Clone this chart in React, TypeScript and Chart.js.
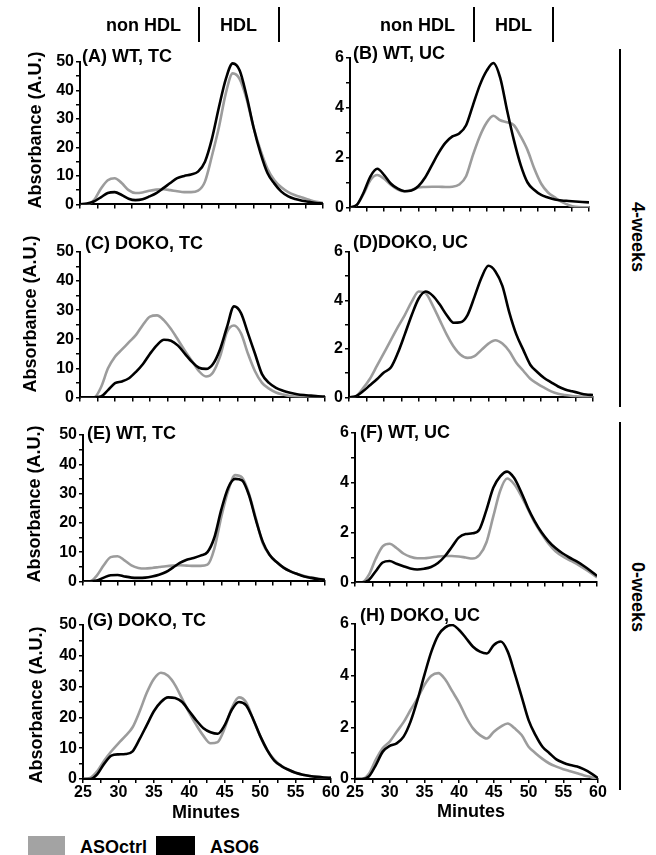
import React, { useEffect, useRef } from "react";
import { Chart, registerables } from "chart.js";
Chart.register(...registerables);

// ---- data ----
const MINUTES = [25, 26, 27, 28, 29, 30, 31, 32, 33, 34, 35, 36, 37, 38, 39, 40, 41, 42, 43, 44, 45, 46, 47, 48, 49, 50, 51, 52, 53, 54, 55, 56, 57, 58, 59, 60];

const X_TICKS = [25, 30, 35, 40, 45, 50, 55, 60];
const TC_TICKS = [0, 10, 20, 30, 40, 50];
const UC_TICKS = [0, 2, 4, 6];

const A_ASOCTRL = [0, 0, 1.5, 5.5, 8.5, 9.2, 7.5, 5, 4, 4.2, 4.8, 5.2, 5.3, 5, 4.6, 4.3, 4.3, 4.8, 8, 17, 27, 39, 46, 44, 37, 27, 19, 12.5, 8.5, 6, 4.3, 3.2, 2.4, 1.6, 0.9, 0.5];
const A_ASO6 = [0, 0.3, 1, 2.5, 4, 4.3, 3.3, 2, 1.5, 1.8, 2.8, 4, 5.7, 7.5, 9.2, 10, 10.5, 11.5, 15, 23, 34, 44, 49.5, 47, 38, 27, 18, 11, 7.3, 4.5, 2.8, 1.9, 1.3, 0.9, 0.5, 0.3];

const B_ASOCTRL = [0, 0.1, 0.55, 1.1, 1.3, 1.15, 0.9, 0.72, 0.65, 0.7, 0.8, 0.82, 0.83, 0.83, 0.82, 0.83, 0.92, 1.25, 2.1, 2.85, 3.4, 3.68, 3.5, 3.42, 3.3, 2.85, 2.3, 1.55, 0.95, 0.6, 0.4, 0.22, 0.1, 0.02, 0, 0];
const B_ASO6 = [0, 0.1, 0.6, 1.25, 1.55, 1.3, 0.95, 0.75, 0.65, 0.68, 0.85, 1.2, 1.7, 2.2, 2.6, 2.85, 2.97, 3.3, 4.1, 4.9, 5.48, 5.8, 5.2, 3.9, 2.7, 1.7, 1.0, 0.7, 0.5, 0.4, 0.32, 0.28, 0.26, 0.24, 0.22, 0.2];

const C_ASOCTRL = [0, 0, 0, 3.5, 10, 14, 16.5, 19, 21.5, 25, 27.8, 28.2, 26.5, 23.5, 19.8, 16, 12.5, 9, 7.2, 8.6, 14, 22.5, 24.7, 22, 15, 9, 5, 3, 1.7, 1.0, 0.5, 0.3, 0.2, 0.1, 0.05, 0];
const C_ASO6 = [0, 0, 0, 0.3, 2.5, 4.9, 5.5, 6.6, 8.8, 11.5, 15, 18, 19.8, 19.5, 17.8, 15, 12.2, 10.2, 9.8, 11.5, 16.5, 24.2, 31.3, 29, 22, 15, 8, 5, 3.3, 2.3, 1.6, 1.1, 0.8, 0.6, 0.4, 0.3];

const D_ASOCTRL = [0, 0.05, 0.37, 0.77, 1.3, 1.83, 2.36, 2.9, 3.4, 3.95, 4.37, 4.3, 3.8, 3.2, 2.6, 2.1, 1.76, 1.63, 1.7, 1.96, 2.22, 2.36, 2.22, 1.9, 1.43, 1.1, 0.77, 0.57, 0.4, 0.25, 0.15, 0.1, 0.06, 0.04, 0.02, 0];
const D_ASO6 = [0, 0.05, 0.25, 0.5, 0.75, 1.03, 1.23, 1.83, 2.6, 3.4, 4.08, 4.37, 4.2, 3.84, 3.4, 3.08, 3.1, 3.4, 4.15, 4.94, 5.43, 5.2, 4.6, 3.5, 2.6, 1.96, 1.35, 1.05, 0.8, 0.62, 0.45, 0.33, 0.25, 0.18, 0.12, 0.1];

const E_ASOCTRL = [0, 0, 2, 5.5, 8.3, 8.6, 7.2, 5.5, 4.6, 4.4, 4.6, 4.9, 5.2, 5.4, 5.5, 5.4, 5.3, 5.3, 5.7, 11.2, 22, 31, 36.3, 35.5, 30, 21.5, 13, 9, 6.6, 4.7, 3.4, 2.5, 1.8, 1.3, 0.9, 0.6];
const E_ASO6 = [0, 0, 0.3, 1.3, 2.1, 2.2, 1.7, 1.3, 1.2, 1.3, 1.7, 2.3, 3.2, 4.7, 6.3, 7.4, 8.0, 8.8, 10, 15, 24.5, 32, 35, 34.5, 29.5, 21, 13.5, 9, 6.6, 4.7, 3.4, 2.5, 1.7, 1.2, 0.8, 0.5];

const F_ASOCTRL = [0, 0, 0.3, 0.95, 1.45, 1.55, 1.38, 1.16, 1.03, 0.97, 0.97, 1.0, 1.04, 1.06, 1.06, 1.04, 1.0, 0.96, 1.1, 1.6, 2.65, 3.68, 4.17, 3.95, 3.5, 2.95, 2.4, 1.95, 1.55, 1.25, 1.05, 0.9, 0.75, 0.58, 0.4, 0.2];
const F_ASO6 = [0, 0, 0.1, 0.45, 0.8, 0.86, 0.75, 0.65, 0.56, 0.52, 0.55, 0.62, 0.78, 1.05, 1.42, 1.8, 1.94, 1.97, 2.13, 2.9, 3.8, 4.26, 4.45, 4.2, 3.65, 3.0, 2.45, 2.0, 1.65, 1.38, 1.17, 1.0, 0.85, 0.68, 0.48, 0.26];

const G_ASOCTRL = [0, 0.3, 2.5, 6, 9, 11.6, 14, 16.8, 22, 28, 32.5, 34.5, 33.5, 30.5, 26, 21.5, 17.5, 14, 11.6, 12, 16.5, 23, 26.5, 25, 19.5, 14, 9.4, 6.3, 4.3, 3, 2, 1.4, 1, 0.7, 0.5, 0.4];
const G_ASO6 = [0, 0, 1.5, 5, 7.6, 8, 8.1, 9, 13, 17.5, 22, 25, 26.5, 26.3, 25, 22, 19, 16.5, 15.2, 14.7, 17.5, 22.5, 25, 24, 19.5, 14, 9.4, 6, 4.2, 3, 2, 1.4, 1, 0.7, 0.5, 0.4];

const H_ASOCTRL = [0, 0, 0.2, 0.75, 1.2, 1.45, 1.83, 2.2, 2.67, 3.12, 3.64, 4.0, 4.1, 3.85, 3.4, 2.95, 2.4, 1.96, 1.7, 1.57, 1.83, 2.03, 2.15, 1.96, 1.7, 1.25, 1.0, 0.78, 0.6, 0.48, 0.38, 0.3, 0.22, 0.14, 0.07, 0];
const H_ASO6 = [0, 0, 0.1, 0.54, 1.06, 1.28, 1.38, 1.64, 2.22, 3.06, 4.03, 4.93, 5.57, 5.87, 5.96, 5.77, 5.45, 5.12, 4.93, 4.86, 5.19, 5.32, 4.93, 4.09, 3.19, 2.28, 1.7, 1.25, 1.0, 0.76, 0.63, 0.54, 0.48, 0.37, 0.22, 0.03];

// ---- styling / layout ----
const FONT = '"Liberation Sans", Arial, Helvetica, sans-serif';
const GREY = "#9c9c9c";
const BLACK = "#000000";

type PanelDef = {
  title: string;
  ctrl: number[];
  aso6: number[];
  yMax: number;
  yStep: number;
  yLabels: number[];
  showX: boolean;
  box: [number, number, number, number]; // plot left, right, top, bottom (px)
  titlePos: [number, number];
};

const PANELS: PanelDef[] = [
  { title: "(A) WT, TC", ctrl: A_ASOCTRL, aso6: A_ASO6, yMax: 50, yStep: 5, yLabels: TC_TICKS, showX: false, box: [80, 323, 62, 210], titlePos: [82, 47] },
  { title: "(B) WT, UC", ctrl: B_ASOCTRL, aso6: B_ASO6, yMax: 6, yStep: 1, yLabels: UC_TICKS, showX: false, box: [350, 589, 58, 213], titlePos: [353, 44] },
  { title: "(C) DOKO, TC", ctrl: C_ASOCTRL, aso6: C_ASO6, yMax: 50, yStep: 5, yLabels: TC_TICKS, showX: false, box: [80, 325, 252, 403], titlePos: [85, 234] },
  { title: "(D)DOKO, UC", ctrl: D_ASOCTRL, aso6: D_ASO6, yMax: 6, yStep: 1, yLabels: UC_TICKS, showX: false, box: [349, 593, 252, 403], titlePos: [353, 233] },
  { title: "(E) WT, TC", ctrl: E_ASOCTRL, aso6: E_ASO6, yMax: 50, yStep: 5, yLabels: TC_TICKS, showX: false, box: [83, 325, 435, 587], titlePos: [87, 424] },
  { title: "(F) WT, UC", ctrl: F_ASOCTRL, aso6: F_ASO6, yMax: 6, yStep: 1, yLabels: UC_TICKS, showX: false, box: [355, 597, 433, 588], titlePos: [360, 423] },
  { title: "(G) DOKO, TC", ctrl: G_ASOCTRL, aso6: G_ASO6, yMax: 50, yStep: 5, yLabels: TC_TICKS, showX: true, box: [83, 331, 625, 779], titlePos: [87, 611] },
  { title: "(H) DOKO, UC", ctrl: H_ASOCTRL, aso6: H_ASO6, yMax: 6, yStep: 1, yLabels: UC_TICKS, showX: true, box: [355, 598, 624, 779], titlePos: [360, 606] },
];

const AXW = 50;
const PADT = 12;
const PADR = 16;

function Panel({ p }: { p: PanelDef }) {
  const ref = useRef<HTMLCanvasElement>(null);
  const [L, R, T, B] = p.box;
  const XH = p.showX ? 26 : 6;
  const w = R - L + AXW + PADR;
  const h = B - T + PADT + XH;

  useEffect(() => {
    const tickFont = { family: FONT, size: 16, weight: "bold" as const };
    const chart = new Chart(ref.current as HTMLCanvasElement, {
      type: "line",
      data: {
        datasets: [
          {
            label: "ASO6",
            data: MINUTES.map((m, i) => ({ x: m, y: p.aso6[i] })),
            borderColor: BLACK,
            backgroundColor: BLACK,
            borderWidth: 2.6,
            pointRadius: 0,
            cubicInterpolationMode: "monotone",
            fill: false,
          },
          {
            label: "ASOctrl",
            data: MINUTES.map((m, i) => ({ x: m, y: p.ctrl[i] })),
            borderColor: GREY,
            backgroundColor: GREY,
            borderWidth: 2.6,
            pointRadius: 0,
            cubicInterpolationMode: "monotone",
            fill: false,
          },
        ],
      },
      options: {
        responsive: false,
        animation: false,
        devicePixelRatio: 1,
        layout: { padding: { left: 0, top: PADT, right: PADR, bottom: 0 } },
        plugins: { legend: { display: false }, tooltip: { enabled: false } },
        scales: {
          x: {
            type: "linear",
            min: 25,
            max: 60,
            afterFit: (s: any) => {
              s.height = XH;
            },
            ticks: {
              stepSize: 2.5,
              autoSkip: false,
              maxRotation: 0,
              minRotation: 0,
              padding: 0,
              color: BLACK,
              font: tickFont,
              callback: (v: any) => (p.showX && X_TICKS.includes(Number(v)) ? String(v) : ""),
            },
            grid: { drawOnChartArea: false, drawTicks: true, tickLength: 4, color: BLACK, lineWidth: 1.5 },
            border: { display: true, color: BLACK, width: 2 },
          },
          y: {
            type: "linear",
            min: 0,
            max: p.yMax,
            afterFit: (s: any) => {
              s.width = AXW;
            },
            ticks: {
              stepSize: p.yStep,
              autoSkip: false,
              padding: 2,
              color: BLACK,
              font: tickFont,
              callback: (v: any) => (p.yLabels.includes(Number(v)) ? String(v) : ""),
            },
            grid: { drawOnChartArea: false, drawTicks: true, tickLength: 4, color: BLACK, lineWidth: 1.5 },
            border: { display: true, color: BLACK, width: 2 },
          },
        },
      },
    } as any);
    return () => chart.destroy();
  }, []);

  return (
    <canvas
      ref={ref}
      width={w}
      height={h}
      style={{ position: "absolute", left: L - AXW, top: T - PADT, width: w, height: h }}
    />
  );
}

const txt = (extra: React.CSSProperties): React.CSSProperties => ({
  position: "absolute",
  fontFamily: FONT,
  fontWeight: "bold",
  fontSize: 18,
  lineHeight: 1,
  whiteSpace: "nowrap",
  color: BLACK,
  ...extra,
});

const vline = (x: number, y1: number, y2: number, wd = 2): React.CSSProperties => ({
  position: "absolute",
  left: x - wd / 2,
  top: y1,
  width: wd,
  height: y2 - y1,
  background: BLACK,
});

export default function App() {
  return (
    <div style={{ position: "absolute", left: 0, top: 0, width: 656, height: 855, overflow: "hidden", background: "#fff" }}>
      {PANELS.map((p, i) => (
        <Panel key={i} p={p} />
      ))}
      {PANELS.map((p, i) => (
        <div key={"t" + i} style={txt({ left: p.titlePos[0], top: p.titlePos[1] })}>
          {p.title}
        </div>
      ))}

      {/* header */}
      <div style={txt({ left: 106, top: 16 })}>non HDL</div>
      <div style={txt({ left: 220, top: 16 })}>HDL</div>
      <div style={vline(199, 7, 42)} />
      <div style={vline(279, 7, 42)} />
      <div style={txt({ left: 380, top: 16 })}>non HDL</div>
      <div style={txt({ left: 495, top: 16 })}>HDL</div>
      <div style={vline(474, 7, 42)} />
      <div style={vline(553, 7, 42)} />

      {/* y titles */}
      {[
        [35, 130],
        [30, 314],
        [34, 504],
        [36, 705],
      ].map(([cx, cy], i) => (
        <div
          key={"y" + i}
          style={txt({ left: cx, top: cy, transform: "translate(-50%, -50%) rotate(-90deg)" })}
        >
          Absorbance (A.U.)
        </div>
      ))}

      {/* right side groups */}
      <div style={vline(620, 49, 407, 2.5)} />
      <div style={vline(620, 422, 790, 2.5)} />
      <div style={txt({ left: 638, top: 237, transform: "translate(-50%, -50%) rotate(90deg)" })}>4-weeks</div>
      <div style={txt({ left: 638, top: 597, transform: "translate(-50%, -50%) rotate(90deg)" })}>0-weeks</div>

      {/* x titles */}
      <div style={txt({ left: 206, top: 803, transform: "translateX(-50%)" })}>Minutes</div>
      <div style={txt({ left: 471, top: 802, transform: "translateX(-50%)" })}>Minutes</div>

      {/* legend */}
      <div style={{ position: "absolute", left: 28, top: 836, width: 37, height: 19, background: "#a3a3a3" }} />
      <div style={txt({ left: 80, top: 838 })}>ASOctrl</div>
      <div style={{ position: "absolute", left: 156, top: 836, width: 39, height: 19, background: BLACK }} />
      <div style={txt({ left: 210, top: 838 })}>ASO6</div>
    </div>
  );
}
